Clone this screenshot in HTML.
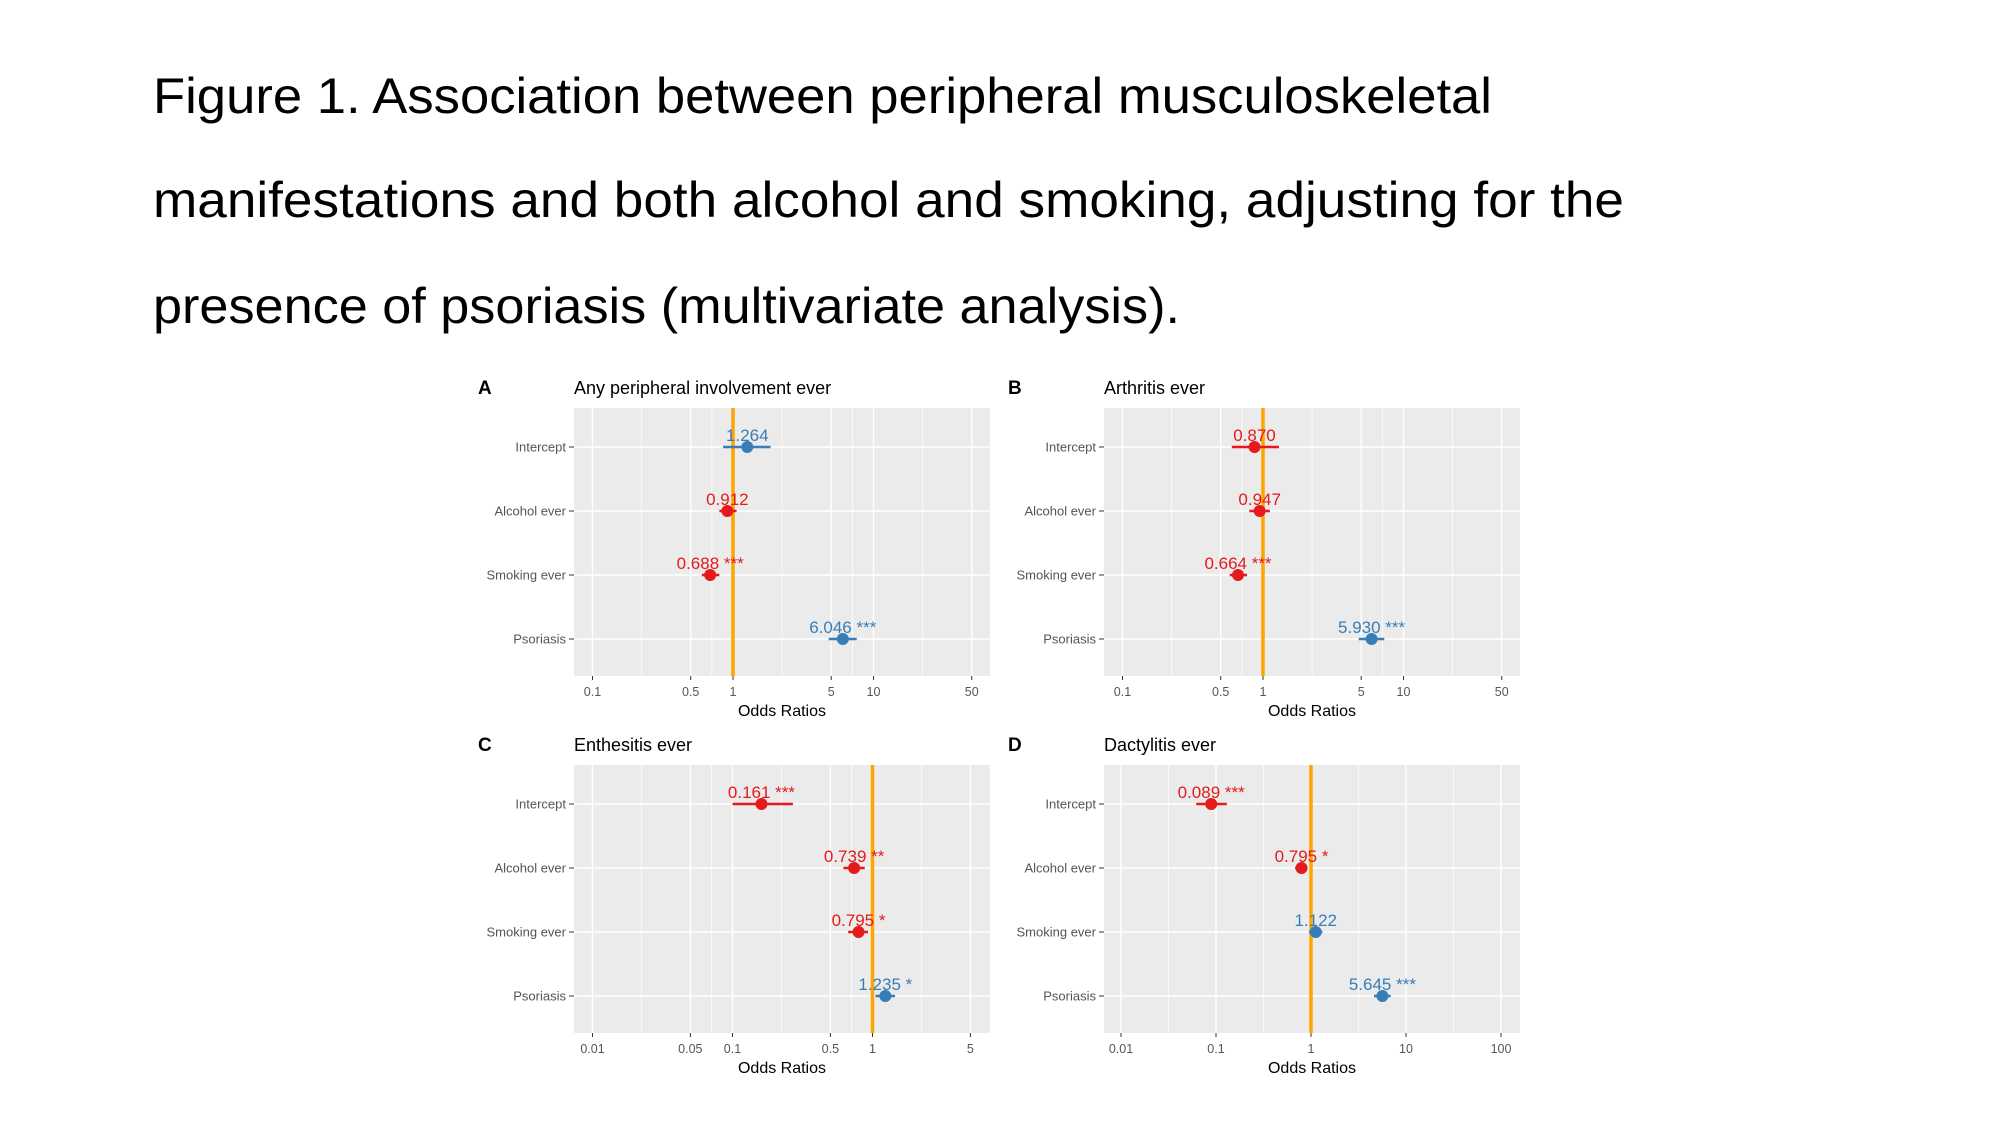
<!DOCTYPE html>
<html><head><meta charset="utf-8"><style>
html,body{margin:0;padding:0;background:#fff;}
svg{display:block;font-family:"Liberation Sans",Arial,sans-serif;}
</style></head><body>
<svg id="fig" width="2000" height="1125" viewBox="0 0 2000 1125" xmlns="http://www.w3.org/2000/svg">
<g font-size="50" fill="#000">
<text x="153" y="113" textLength="1339" lengthAdjust="spacingAndGlyphs">Figure 1. Association between peripheral musculoskeletal</text>
<text x="153" y="217" textLength="1471" lengthAdjust="spacingAndGlyphs">manifestations and both alcohol and smoking, adjusting for the</text>
<text x="153" y="323" textLength="1027" lengthAdjust="spacingAndGlyphs">presence of psoriasis (multivariate analysis).</text>
</g>
</svg>
<script>
const terms = ["Intercept","Alcohol ever","Smoking ever","Psoriasis"];
const estA = [1.264,0.912,0.688,6.046];
const loA = [0.85,0.80,0.60,4.8];
const hiA = [1.85,1.06,0.80,7.6];
const starsA = ["","","***","***"];
const estB = [0.870,0.947,0.664,5.930];
const loB = [0.60,0.80,0.58,4.8];
const hiB = [1.30,1.12,0.77,7.3];
const starsB = ["","","***","***"];
const estC = [0.161,0.739,0.795,1.235];
const loC = [0.10,0.62,0.67,1.05];
const hiC = [0.27,0.88,0.93,1.45];
const starsC = ["***","**","*","*"];
const estD = [0.089,0.795,1.122,5.645];
const loD = [0.062,0.68,0.95,4.6];
const hiD = [0.13,0.92,1.32,6.9];
const starsD = ["***","*","","***"];
const ticksAB = [0.1,0.5,1,5,10,50];
const tickLabelsAB = ["0.1","0.5","1","5","10","50"];
const ticksC = [0.01,0.05,0.1,0.5,1,5];
const tickLabelsC = ["0.01","0.05","0.1","0.5","1","5"];
const ticksD = [0.01,0.1,1,10,100];
const tickLabelsD = ["0.01","0.1","1","10","100"];

const NS="http://www.w3.org/2000/svg";
const svg=document.getElementById('fig');
function mk(tag,attrs,parent){const e=document.createElementNS(NS,tag);for(const k in attrs)e.setAttribute(k,attrs[k]);(parent||svg).appendChild(e);return e;}

function panel(cfg){
  const g=mk('g',{});
  
  
  const L=cfg.ox, R=cfg.ox+416, T=cfg.oy, B=cfg.oy+268;
  const x=v=>cfg.one+Math.log10(v)*cfg.dec;
  const y=i=>T+39+i*64;
  const bg=mk('rect',{x:L,y:T,width:R-L,height:B-T,fill:'#ebebeb'},g);
  
  
  const lg=cfg.ticks.map(t=>Math.log10(t));
  const minors=[];
  for(let i=0;i<lg.length-1;i++)minors.push((lg[i]+lg[i+1])/2);
  minors.push(lg[0]-(lg[1]-lg[0])/2);minors.push(lg[lg.length-1]+(lg[lg.length-1]-lg[lg.length-2])/2);
  minors.forEach(m=>{const px=cfg.one+m*cfg.dec;if(px>L&&px<R){const l=mk('line',{x1:px,x2:px,y1:T,y2:B,stroke:'#fff','stroke-width':0.7},g);
    
    }});
  cfg.ticks.forEach((t,i)=>{const px=x(t);
    const l=mk('line',{x1:px,x2:px,y1:T,y2:B,stroke:'#fff','stroke-width':1.4},g);
    
    
    mk('line',{x1:px,x2:px,y1:B,y2:B+4,stroke:'#333','stroke-width':1},g);
    const tx=mk('text',{x:px,y:B+20,'font-size':12.5,fill:'#555','text-anchor':'middle'},g);
    tx.textContent=cfg.labels[i];
    
    
  });
  terms.forEach((t,i)=>{
    const l=mk('line',{x1:L,x2:R,y1:y(i),y2:y(i),stroke:'#fff','stroke-width':1.4},g);
    
    
    mk('line',{x1:L-5,x2:L,y1:y(i),y2:y(i),stroke:'#333','stroke-width':1},g);
    const tx=mk('text',{x:L-8,y:y(i)+4.5,'font-size':13,fill:'#555','text-anchor':'end'},g);
    tx.textContent=t;
    
    
  });
  const ref=mk('line',{x1:x(1),x2:x(1),y1:T,y2:B,stroke:'#ffa500','stroke-width':3.5},g);
  
  
  cfg.est.forEach((v,i)=>{
    const col=v>=1?'#377eb8':'#e41a1c';
    const eb=mk('line',{x1:x(cfg.lo[i]),x2:x(cfg.hi[i]),y1:y(i),y2:y(i),stroke:col,'stroke-width':2.5},g);
    
    
    const pt=mk('circle',{cx:x(v),cy:y(i),r:6,fill:col},g);
    
    
    const lb=mk('text',{x:x(v),y:y(i)-6,'font-size':17,fill:col,'text-anchor':'middle'},g);
    lb.textContent=v.toFixed(3)+(cfg.stars[i]?' '+cfg.stars[i]:'');
    
    
  });
  const at=mk('text',{x:(L+R)/2,y:B+40,'font-size':16,fill:'#000','text-anchor':'middle'},g);
  at.textContent='Odds Ratios';
  
  
  const lt=mk('text',{x:L-96,y:T-14,'font-size':19,'font-weight':'bold',fill:'#000'},g);
  lt.textContent=cfg.letter;
  
  
  const pt=mk('text',{x:L,y:T-14,'font-size':18,fill:'#000'},g);
  pt.textContent=cfg.title;
  
  
}
panel({letter:'A',title:'Any peripheral involvement ever',ox:574,oy:408,one:733,dec:140.5,ticks:ticksAB,labels:tickLabelsAB,est:estA,lo:loA,hi:hiA,stars:starsA});
panel({letter:'B',title:'Arthritis ever',ox:1104,oy:408,one:1263,dec:140.5,ticks:ticksAB,labels:tickLabelsAB,est:estB,lo:loB,hi:hiB,stars:starsB});
panel({letter:'C',title:'Enthesitis ever',ox:574,oy:765,one:872.5,dec:140,ticks:ticksC,labels:tickLabelsC,est:estC,lo:loC,hi:hiC,stars:starsC});
panel({letter:'D',title:'Dactylitis ever',ox:1104,oy:765,one:1311,dec:95,ticks:ticksD,labels:tickLabelsD,est:estD,lo:loD,hi:hiD,stars:starsD});
</script>
</body></html>
